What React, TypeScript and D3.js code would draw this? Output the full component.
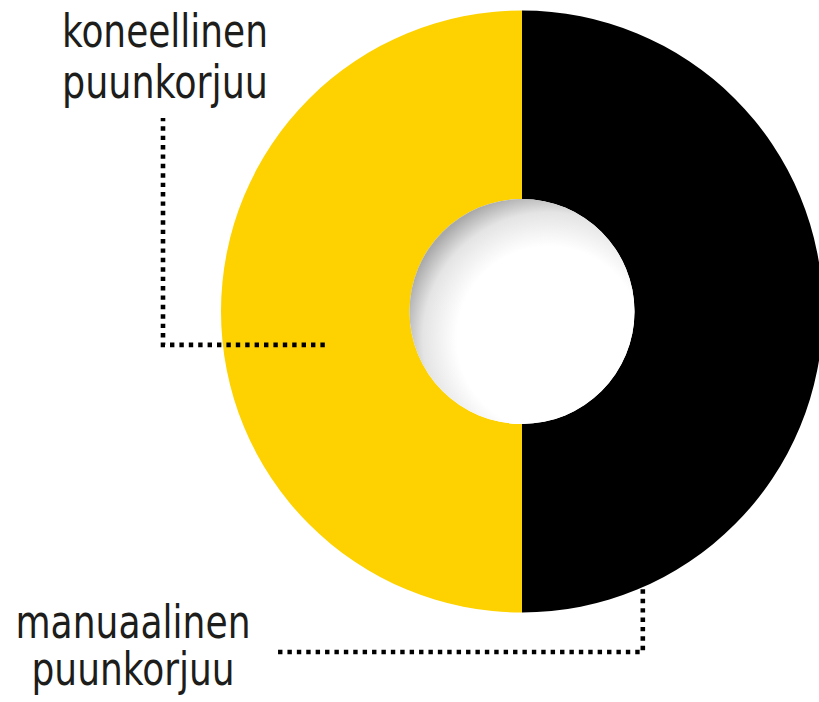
import { useEffect, useRef } from "react"
import * as d3 from "d3"

// shares of the two harvesting methods (the picture splits exactly in half)
const categories = ["manuaalinen puunkorjuu", "koneellinen puunkorjuu"]
const values = [50, 50]
const colors = ["#000000", "#fdd200"]

// label lines per category
const labelLines = [
  ["manuaalinen", "puunkorjuu"],
  ["koneellinen", "puunkorjuu"],
]

const W = 819
const H = 702
const cx = 522
const cy = 311.5
const outerR = 301
const innerR = 112.5

export default function App() {
  const ref = useRef<SVGSVGElement>(null)

  useEffect(() => {
    const svg = d3.select(ref.current)
    svg.selectAll("*").remove()

    const defs = svg.append("defs")
    const grad = defs
      .append("radialGradient")
      .attr("id", "hole")
      .attr("cx", 0.62)
      .attr("cy", 0.62)
      .attr("r", 0.66)
    grad.append("stop").attr("offset", 0).attr("stop-color", "#ffffff")
    grad.append("stop").attr("offset", 0.62).attr("stop-color", "#ffffff")
    grad.append("stop").attr("offset", 0.85).attr("stop-color", "#e4e4e4")
    grad.append("stop").attr("offset", 1).attr("stop-color", "#a9a9a9")

    const pie = d3
      .pie<number>()
      .sort(null)
      .startAngle(0)
      .endAngle(2 * Math.PI)
    const arcs = pie(values)
    const arc = d3.arc<d3.PieArcDatum<number>>().innerRadius(innerR).outerRadius(outerR)

    const g = svg.append("g").attr("transform", `translate(${cx},${cy})`)
    g.selectAll("path.slice")
      .data(arcs)
      .enter()
      .append("path")
      .attr("class", "slice")
      .attr("d", arc)
      .attr("fill", (_, i) => colors[i])

    g.append("circle").attr("r", innerR).attr("fill", "url(#hole)")

    // leader lines (dotted)
    const polar = (angle: number, r: number): [number, number] => [
      cx + Math.sin(angle) * r,
      cy - Math.cos(angle) * r,
    ]
    const deg = Math.PI / 180
    const [bx, by] = polar(156.5 * deg, outerR + 2)
    const [tx, ty] = polar(260.4 * deg, 200)
    const leaders: [number, number][][] = [
      [
        [bx, by],
        [bx, 652],
        [278, 652],
      ],
      [
        [tx, ty],
        [163, ty],
        [163, 118],
      ],
    ]
    const line = d3.line()
    svg
      .append("g")
      .selectAll("path")
      .data(leaders)
      .enter()
      .append("path")
      .attr("d", (d) => line(d))
      .attr("fill", "none")
      .attr("stroke", "#000")
      .attr("stroke-width", 4.6)
      .attr("stroke-dasharray", "4.4 5")

    // labels
    const labelPos = [
      { x: 133, y: [638, 685], w: [235, 203] },
      { x: 165, y: [47, 98], w: [206, 206] },
    ]
    labelLines.forEach((lines, i) => {
      lines.forEach((t, j) => {
        svg
          .append("text")
          .attr("x", labelPos[i].x)
          .attr("y", labelPos[i].y[j])
          .attr("text-anchor", "middle")
          .attr("font-family", "'DejaVu Sans Condensed', 'Liberation Sans Narrow', 'DejaVu Sans', sans-serif")
          .attr("font-stretch", "condensed")
          .attr("font-size", 47)
          .attr("fill", "#1d1d1b")
          .attr("textLength", labelPos[i].w[j])
          .attr("lengthAdjust", "spacingAndGlyphs")
          .text(t)
      })
    })
  }, [])

  return (
    <svg
      ref={ref}
      width={W}
      height={H}
      aria-label={categories.join(" / ")}
      style={{ position: "absolute", left: 0, top: 0, background: "#fff", display: "block" }}
    />
  )
}
